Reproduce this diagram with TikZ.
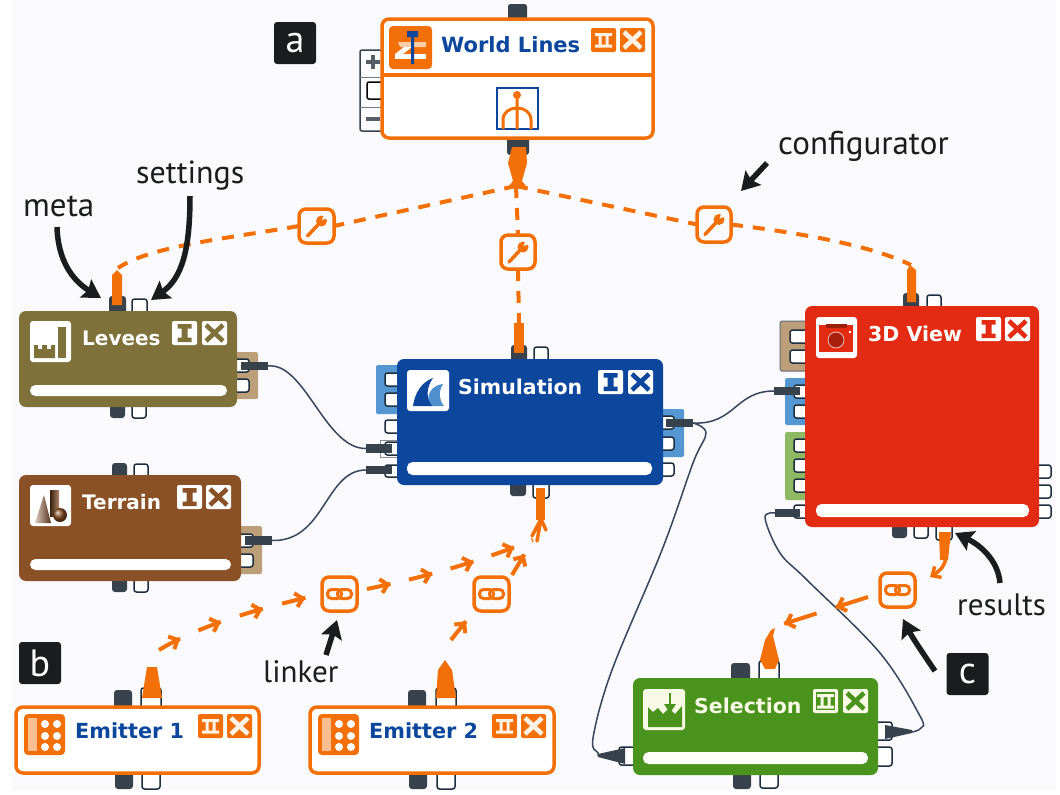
\documentclass[tikz,border=0pt]{standalone}
\usepackage{fontspec}
\usetikzlibrary{arrows.meta,decorations.markings,calc}
\newfontfamily\blockfont{DejaVu Sans}
\newfontfamily\calloutfont{PT Sans}
\definecolor{orng}{HTML}{F36F08}
\definecolor{paper}{HTML}{FAFAFD}
\definecolor{dark}{HTML}{38424C}
\definecolor{ink}{HTML}{1B1C1E}
\definecolor{portline}{HTML}{1D2F3F}
\definecolor{wire}{HTML}{37465A}
\definecolor{navy}{HTML}{0C479D}
\definecolor{olive}{HTML}{7E7139}
\definecolor{brownb}{HTML}{8B5126}
\definecolor{redb}{HTML}{E22B12}
\definecolor{greenb}{HTML}{4A931C}
\definecolor{tan}{HTML}{BC9E78}
\definecolor{tabblue}{HTML}{5597D3}
\definecolor{tabgreen}{HTML}{8FB862}
\definecolor{cream}{HTML}{F9FAE6}
\tikzset{
  plainbox/.style={rectangle,inner sep=0pt,outer sep=0pt},
  wport/.style={plainbox,fill=white,draw=portline,line width=1.5pt,rounded corners=2.5pt},
  dport/.style={plainbox,fill=dark,rounded corners=3pt},
  tabbox/.style={plainbox,rounded corners=1.5pt},
  block/.style={plainbox,fill=#1,rounded corners=7pt},
  outline/.style={plainbox,fill=white!60!paper,draw=orng,line width=3.5pt,rounded corners=7pt},
  bar/.style={plainbox,fill=white,rounded corners=5.5pt},
  hubnode/.style={plainbox,fill=paper,draw=orng,line width=3.5pt,rounded corners=7pt},
  title/.style={anchor=base west,inner sep=0pt,font=\blockfont\bfseries\fontsize{#1}{24}\selectfont},
  callout/.style={anchor=base west,inner sep=0pt,text=ink,font=\calloutfont\fontsize{#1}{36}\selectfont},
  letterbox/.style={plainbox,fill=ink,rounded corners=3pt,text=white,font=\calloutfont\fontsize{38}{40}\selectfont},
  plugbox/.style={plainbox,fill=dark},
  wireline/.style={draw=wire,line width=1.5pt},
  confline/.style={draw=orng,line width=4pt,dash pattern=on 12pt off 10pt},
  pointer/.style={draw=ink,line width=5.5pt,-{Stealth[length=18pt,width=21pt,inset=3pt]}},
  chevline/.style n args={3}{draw=orng,line width=4pt,dash pattern=on #1pt off #2pt,postaction={decorate},
     decoration={markings,mark=between positions #1pt and -1pt step #3pt with {\arrow{Straight Barb[length=7pt,width=14pt,line width=4pt]}}}},
}
\newcommand\nbox[6][]{%
  \pgfmathsetmacro{\nbCx}{(#3+#5)/2}\pgfmathsetmacro{\nbCy}{(#4+#6)/2}%
  \pgfmathsetmacro{\nbW}{#5-#3}\pgfmathsetmacro{\nbH}{#6-#4}%
  \node[#1,minimum width=\nbW pt,minimum height=\nbH pt] (#2) at (\nbCx,\nbCy) {};}
\newcommand\btnface[3]{\fill[#3,rounded corners=2pt] (#1,#2) rectangle ++(25,24);}
\newcommand\glyphI[3]{\fill[#3] (#1+5.5,#2+3) rectangle (#1+19.5,#2+7.5) (#1+9.5,#2+7) rectangle (#1+15.5,#2+17) (#1+5.5,#2+16.5) rectangle (#1+19.5,#2+21);}
\newcommand\glyphII[3]{\fill[#3] (#1+4,#2+5) rectangle (#1+21,#2+8) (#1+7.5,#2+8) rectangle (#1+10.5,#2+16.5) (#1+14.5,#2+8) rectangle (#1+17.5,#2+16.5) (#1+4,#2+16.5) rectangle (#1+21,#2+19.5);}
\newcommand\glyphX[3]{\draw[#3,line width=4.6pt] (#1+4,#2+4) -- (#1+21,#2+20) (#1+21,#2+4) -- (#1+4,#2+20);}
\newcommand\wrenchglyph[1]{\begin{scope}[shift={(#1.center)}]
  \draw[orng,line width=3.5pt,line cap=round] (-9,10) -- (4,-4);
  \fill[orng] (5,-5) circle (5.5pt);
  \fill[paper] (5.5,-6) -- (8.5,-14) -- (14,-9) -- cycle;
  \end{scope}}
\newcommand\linkglyph[1]{\begin{scope}[shift={(#1.center)}]
  \draw[orng,line width=3pt,rounded corners=4pt] (-12,-4.5) rectangle (2,4.5);
  \draw[orng,line width=3pt,rounded corners=4pt] (-2,-4.5) rectangle (12,4.5);
  \end{scope}}
\newcommand\emitterglyph[2]{%
  \fill[orng,rounded corners=4pt] (#1,#2) rectangle ++(41,41);
  \fill[orng!45!white] (#1+4,#2+4) rectangle (#1+13,#2+37);
  \foreach \gy in {10,22,33}{\fill[white] (#1+21,#2+\gy) circle (4pt) (#1+33,#2+\gy) circle (4pt);}}
\begin{document}
\begin{tikzpicture}[x=1pt,y=-1pt]
\useasboundingbox (0,0) rectangle (1060,795);
\fill[white] (0,0) rectangle (1060,795);
\fill[paper] (12,0) rectangle (1056,790);

% ---------- named nodes that the connectors end on
\coordinate (hub) at (516,186);
\coordinate (levIn) at (118,268);
\coordinate (simIn) at (519,323);
\coordinate (viewIn) at (911,265);
\coordinate (em1Go) at (159,650);
\coordinate (lk1Go) at (367,589);
\coordinate (simOut) at (533,540);
\coordinate (em2Go) at (451,640);
\coordinate (lk2Go) at (512,575);
\coordinate (lk3Go) at (868,597);
\coordinate (selIn) at (774,627);

% ---------- configurators and linkers
\nbox[hubnode]{wrA}{299}{209}{334}{243}
\nbox[hubnode]{wrB}{501}{235}{535}{269}
\nbox[hubnode]{wrC}{697}{207}{731}{242}
\nbox[hubnode]{lkA}{322}{577}{357}{611}
\nbox[hubnode]{lkB}{474}{577}{509}{611}
\nbox[hubnode]{lkC}{880}{573}{915}{607}
\wrenchglyph{wrA}\wrenchglyph{wrB}\wrenchglyph{wrC}
\linkglyph{lkA}\linkglyph{lkB}\linkglyph{lkC}
\draw[confline] (hub) -- (wrA.east);
\draw[confline] (wrA.west) .. controls (230,238) and (150,246) .. (levIn);
\draw[confline] (hub) -- (wrB.north);
\draw[confline] (wrB.south) -- (simIn);
\draw[confline] (hub) -- (wrC.west);
\draw[confline] (wrC.east) .. controls (800,233) and (870,245) .. (viewIn);

% ---------- World Lines
\nbox[wport,fill=dark,draw=none]{wlTop}{508}{4}{527}{24}
\nbox[dport]{wlBot}{507}{135}{529}{155}
\nbox[plainbox,fill=white!50!paper,draw=dark,line width=1.5pt,rounded corners=2pt]{wlZoom}{360}{50}{392}{131}
\draw[dark!70,line width=1pt] (wlZoom.west |- 0,77) -- (385,77) (wlZoom.west |- 0,107) -- (385,107);
\draw[dark!85,line width=3.5pt] (366,62) -- (380,62) (373,55) -- (373,69) (366,119) -- (380,119);
\draw[black,line width=1.5pt,rounded corners=2pt,fill=white] (390,82) -- (367,82) -- (367,99) -- (390,99);
\nbox[outline,fill=white]{world}{382}{19}{653}{138}
\draw[orng,line width=3.5pt] (world.west |- 0,75) -- (world.east |- 0,75);
\fill[orng,rounded corners=4pt] (389,26) rectangle (432,69);
\fill[orng!35!white] (398,42) -- (426,42) -- (426,47) -- (400,47) -- cycle;
\fill[white] (395,54) -- (426,54) -- (426,59) -- (395,59) -- cycle;
\fill[white] (395,54) -- (404,47) -- (412,47) -- (403,54) -- cycle;
\fill[navy] (407,31) rectangle (418,37) (411,37) rectangle (414,64);
\node[title=21,text=navy] (tWorld) at (441,52) {World Lines};
\btnface{591}{28}{orng}\glyphII{591}{28}{white!90!orng}
\btnface{620}{28}{orng}\glyphX{620}{28}{white!90!orng}
\draw[navy,line width=1.5pt,fill=white] (497,88) rectangle (538,129);
\draw[orng,line width=3pt] (517,92) -- (517,129) (503,129) -- (503,120) .. controls (503,112) and (510,108) .. (517,108) .. controls (524,108) and (531,112) .. (531,120) -- (531,129);
\fill[orng] (517,95) circle (4pt);
\fill[orng] (512,147) -- (526,147) -- (527,163) -- (522,181) -- (526,186) -- (509,186) -- (513,181) -- (508,163) -- cycle;

% ---------- Levees
\nbox[dport]{levTopA}{109}{296}{126}{316}
\nbox[wport]{levTopB}{132}{299}{147}{316}
\nbox[dport]{levBotA}{110}{402}{125}{418}
\nbox[wport]{levBotB}{132}{402}{146}{418}
\nbox[tabbox,fill=tan]{levTab}{232}{352}{258}{399}
\nbox[wport]{levOutA}{230}{359}{249}{372}
\nbox[wport]{levOutB}{230}{379}{249}{392}
\nbox[block=olive]{levees}{19}{311}{237}{407}
\fill[white,rounded corners=3pt] (30,321) rectangle (71,362);
\fill[olive] (34,358) -- (34,345) -- (38,345) -- (38,349) -- (42,349) -- (42,345) -- (47,345) -- (47,349) -- (51,349) -- (51,345) -- (55,345) -- (55,358) -- cycle;
\fill[olive] (58,327) rectangle (66,358);
\node[title=20,text=white] (tLev) at (82,345) {Levees};
\btnface{172}{321}{white}\glyphI{172}{321}{olive}
\btnface{202}{321}{white}\glyphX{202}{321}{olive}
\nbox[bar]{levBar}{30}{385}{227}{396}
\nbox[plugbox]{levPlug}{241}{362}{268}{370}
\fill[orng] (112,305) -- (112,275) -- (117,270) -- (122,275) -- (122,305) -- cycle;

% ---------- Terrain
\nbox[dport]{terTopA}{112}{463}{127}{480}
\nbox[wport]{terTopB}{134}{464}{148}{480}
\nbox[dport]{terBotA}{112}{576}{127}{592}
\nbox[wport]{terBotB}{134}{576}{148}{592}
\nbox[tabbox,fill=tan]{terTab}{236}{526}{262}{574}
\nbox[wport]{terOutA}{234}{534}{253}{547}
\nbox[wport]{terOutB}{234}{554}{253}{567}
\nbox[block=brownb]{terrain}{19}{475}{241}{581}
\fill[white,rounded corners=3pt] (30,485) rectangle (71,526);
\shade[left color=brownb!30!white,right color=brownb!60!black] (35,523) -- (44,495) -- (51,523) -- cycle;
\shade[left color=brownb!40!black,right color=brownb!70!white] (50,490) rectangle (59,516);
\shade[ball color=brownb] (60,515) circle (7pt);
\node[title=20,text=white] (tTer) at (82,509) {Terrain};
\btnface{177}{485}{white}\glyphI{177}{485}{brownb}
\btnface{206}{485}{white}\glyphX{206}{485}{brownb}
\nbox[bar]{terBar}{30}{559}{231}{570}
\nbox[plugbox]{terPlug}{245}{536}{272}{545}

% ---------- Simulation
\nbox[dport]{simTopA}{511}{345}{527}{364}
\nbox[wport]{simTopB}{534}{347}{548}{364}
\nbox[dport]{simBotA}{510}{480}{526}{496}
\nbox[wport]{simBotB}{533}{480}{549}{498}
\nbox[tabbox,fill=tabblue]{simTabL}{376}{365}{402}{414}
\nbox[tabbox,fill=tabblue]{simTabR}{658}{409}{684}{457}
\nbox[wport]{simInA}{385}{373}{402}{386}
\nbox[wport]{simInB}{385}{393}{402}{406}
\nbox[wport]{simInC}{385}{420}{402}{433}
\nbox[plainbox,draw=dark!60,line width=1pt]{simFrame}{380}{440}{397}{457}
\nbox[wport]{simInD}{385}{442}{402}{455}
\nbox[wport]{simInE}{385}{465}{402}{477}
\nbox[wport]{simOutA}{658}{416}{674}{429}
\nbox[wport]{simOutB}{658}{437}{674}{450}
\nbox[wport]{simOutC}{658}{463}{674}{476}
\nbox[block=navy]{sim}{397}{359}{663}{485}
\fill[white,rounded corners=3pt] (407,370) rectangle (449,411);
\fill[tabblue!90!navy] (430,406) .. controls (425,395) and (432,385) .. (443,384) .. controls (438,392) and (439,400) .. (444,406) -- cycle;
\fill[navy] (413,406) .. controls (415,392) and (422,382) .. (433,378) .. controls (426,388) and (426,398) .. (432,406) -- cycle;
\node[title=20.5,text=white] (tSim) at (458,394) {Simulation};
\btnface{598}{370}{white}\glyphI{598}{370}{navy}
\btnface{628}{370}{white}\glyphX{628}{370}{navy}
\nbox[bar]{simBar}{407}{462}{652}{475}
\nbox[plugbox]{simPlugA}{366}{444}{392}{453}
\nbox[plugbox]{simPlugB}{366}{466}{392}{474}
\nbox[plugbox]{simPlugC}{666}{419}{693}{427}
\fill[orng] (514,353) rectangle (524,323);
\fill[orng] (536,488) rectangle (545,520);
\draw[orng,line width=3.5pt,line cap=round] (541,519) -- (532,536) (541,519) -- (537,541) (541,519) -- (546,530);

% ---------- 3D View
\nbox[dport]{viewTopA}{903}{293}{919}{311}
\nbox[wport]{viewTopB}{927}{295}{941}{311}
\nbox[dport]{viewBotA}{892}{522}{907}{538}
\nbox[wport]{viewBotB}{914}{522}{928}{538}
\nbox[wport]{viewBotC}{936}{522}{952}{540}
\nbox[tabbox,fill=tan,draw=wire!80,line width=1pt]{viewTabA}{780}{321}{810}{371}
\nbox[tabbox,fill=tabblue]{viewTabB}{785}{378}{810}{425}
\nbox[tabbox,fill=tabgreen]{viewTabC}{785}{432}{810}{500}
\nbox[wport]{viewInA}{790}{330}{810}{343}
\nbox[wport]{viewInB}{790}{350}{810}{363}
\nbox[wport]{viewInC}{794}{385}{810}{398}
\nbox[wport]{viewInD}{794}{405}{810}{418}
\nbox[wport]{viewInE}{794}{439}{810}{452}
\nbox[wport]{viewInF}{794}{459}{810}{472}
\nbox[wport]{viewInG}{794}{479}{810}{492}
\nbox[wport]{viewInH}{794}{505}{810}{518}
\nbox[wport]{viewOutA}{1030}{465}{1051}{478}
\nbox[wport]{viewOutB}{1030}{485}{1051}{498}
\nbox[wport]{viewOutC}{1030}{505}{1051}{518}
\nbox[block=redb]{view}{805}{306}{1039}{527}
\fill[white,rounded corners=3pt] (816,317) rectangle (857,358);
\fill[redb] (819,325) rectangle (853,352);
\fill[redb!70!black] (826,324) rectangle (847,328);
\fill[white] (850,332) circle (1.3pt);
\fill[redb!75!black,draw=white!70!redb,line width=.8pt] (836,340) circle (8pt);
\node[title=20.5,text=white] (tView) at (868,341) {3D View};
\btnface{976}{317}{white}\glyphI{976}{317}{redb}
\btnface{1005}{317}{white}\glyphX{1005}{317}{redb}
\nbox[bar]{viewBar}{816}{504}{1029}{517}
\nbox[plugbox]{viewPlugA}{774}{387}{800}{395}
\nbox[plugbox]{viewPlugB}{775}{509}{800}{517}
\fill[orng] (907,302) -- (907,270) -- (910,265) -- (916,270) -- (916,302) -- cycle;
\fill[orng] (939,532) -- (951,532) -- (948,560) -- (940,560) -- cycle;
\draw[orng,line width=3.5pt,-{Straight Barb[length=7pt,width=13pt,line width=3.5pt]}] (946,558) .. controls (944,568) and (938,572) .. (930,577);

% ---------- Selection
\nbox[dport]{selTopA}{731}{663}{750}{683}
\nbox[wport]{selTopB}{759}{661}{779}{683}
\nbox[dport]{selBotA}{733}{770}{751}{789}
\nbox[wport]{selBotB}{760}{770}{778}{788}
\nbox[wport]{selOutA}{872}{722}{892}{740}
\nbox[wport]{selOutB}{872}{747}{892}{766}
\nbox[wport]{selInA}{619}{747}{639}{765}
\nbox[block=greenb]{sel}{633}{678}{878}{775}
\fill[cream,rounded corners=3pt] (643,689) rectangle (685,730);
\fill[greenb] (648,727) -- (648,707) -- (653,712) -- (658,708) -- (663,714) -- (669,708) -- (675,714) -- (682,706) -- (682,727) -- cycle;
\draw[greenb,line width=2pt] (670,693) -- (670,708);
\fill[greenb] (664,704) -- (676,704) -- (670,713) -- cycle;
\node[title=20.5,text=cream] (tSel) at (694,713) {Selection};
\btnface{813}{689}{cream}\fill[greenb] (816,692) rectangle (835,710);\glyphII{813}{689}{cream}
\btnface{843}{689}{cream}\glyphX{843}{689}{greenb}
\nbox[bar,fill=white!70!cream]{selBar}{643}{752}{868}{764}
\coordinate (selPlugR) at (912,732);
\coordinate (selPlugL) at (598,756);
\fill[dark] (885,725) -- (912,730) -- (912,733) -- (885,739) -- cycle;
\fill[dark] (625,748) -- (598,754) -- (598,757) -- (625,764) -- cycle;
\fill[orng] (765,669) -- (760,660) -- (765,640) -- (771,630) -- (775,628) -- (773,636) -- (779,660) -- (775,669) -- cycle;

% ---------- Emitters
\nbox[dport]{emaTopA}{114}{690}{132}{712}
\nbox[wport]{emaTopB}{141}{688}{161}{712}
\nbox[dport]{emaBotA}{115}{768}{133}{789}
\nbox[wport]{emaBotB}{142}{768}{160}{789}
\nbox[outline,fill=white]{ema}{16}{707}{259}{773}
\emitterglyph{24}{714}
\node[title=20.8,text=navy] (tEma) at (75,738) {Emitter 1};
\btnface{198}{714}{orng}\glyphII{198}{714}{white!90!orng}
\btnface{227}{714}{orng}\glyphX{227}{714}{white!90!orng}
\fill[orng] (142,698) -- (147,667) -- (157,667) -- (162,698) -- cycle;
\nbox[dport]{embTopA}{408}{690}{426}{712}
\nbox[wport]{embTopB}{436}{688}{456}{712}
\nbox[dport]{embBotA}{409}{768}{427}{789}
\nbox[wport]{embBotB}{437}{768}{455}{789}
\nbox[outline,fill=white]{emb}{310}{707}{554}{773}
\emitterglyph{318}{714}
\node[title=20.8,text=navy] (tEmb) at (369,738) {Emitter 2};
\btnface{492}{714}{orng}\glyphII{492}{714}{white!90!orng}
\btnface{521}{714}{orng}\glyphX{521}{714}{white!90!orng}
\fill[orng] (436,698) -- (438,670) -- (445,660) -- (452,670) -- (456,698) -- cycle;

% ---------- wires
\draw[wireline] (levPlug.east) .. controls (305,362) and (325,449) .. (simPlugA.west);
\draw[wireline] (terPlug.east) .. controls (325,542) and (325,470) .. (simPlugB.west);
\draw[wireline] (simPlugC.east) .. controls (735,425) and (735,391) .. (viewPlugA.west);
\draw[wireline] plot[smooth,tension=.6] coordinates {(simPlugC.east) (706,433) (693,463) (662,550) (612,670) (593,738) (598,753) (selPlugL)};
\draw[wireline] plot[smooth,tension=.6] coordinates {(viewPlugB.west) (765,518) (780,553) (807,580) (880,653) (920,716) (921,728) (selPlugR)};

% ---------- linker chains
\draw[chevline={24}{20}{44}] (em1Go) .. controls (200,625) and (260,608) .. (lkA.west);
\draw[chevline={24}{19}{43}] (lk1Go) .. controls (420,578) and (470,565) .. (simOut);
\draw[chevline={24}{20}{44}] (em2Go) -- (lkB.south west);
\draw[chevline={24}{20}{44}] (lk2Go) -- (simOut);
\draw[chevline={34}{20}{54}] (lk3Go) -- (selIn);

% ---------- callouts
\node[letterbox,minimum width=42pt,minimum height=42pt] (boxA) at (295,43) {a};
\node[letterbox,minimum width=42pt,minimum height=42pt] (boxB) at (40,663) {b};
\node[letterbox,minimum width=42pt,minimum height=42pt] (boxC) at (967.5,674) {c};
\node[callout=33] (lbMeta) at (23,216) {meta};
\node[callout=32] (lbSet) at (136,183) {settings};
\node[callout=33] (lbConf) at (778,154) {configurator};
\node[callout=31] (lbLink) at (263,682) {linker};
\node[callout=31] (lbRes) at (957,615) {results};
\coordinate (ptMetaA) at (57,227);
\coordinate (ptMetaB) at (101,298);
\coordinate (ptSetA) at (190,196);
\coordinate (ptSetB) at (151,300);
\coordinate (ptConfA) at (767,163);
\coordinate (ptConfB) at (741,191);
\coordinate (ptLinkA) at (326,655);
\coordinate (ptLinkB) at (337,620);
\coordinate (ptResA) at (1000,583);
\coordinate (ptResB) at (955,533);
\coordinate (ptCA) at (935,671);
\coordinate (ptCB) at (903,619);
\draw[pointer] (ptMetaA) .. controls (58,260) and (72,280) .. (ptMetaB);
\draw[pointer] (ptSetA) .. controls (190,250) and (182,278) .. (ptSetB);
\draw[pointer] (ptConfA) -- (ptConfB);
\draw[pointer] (ptLinkA) -- (ptLinkB);
\draw[pointer] (ptResA) .. controls (998,560) and (980,545) .. (ptResB);
\draw[pointer] (ptCA) .. controls (922,652) and (912,637) .. (ptCB);
\end{tikzpicture}
\end{document}
